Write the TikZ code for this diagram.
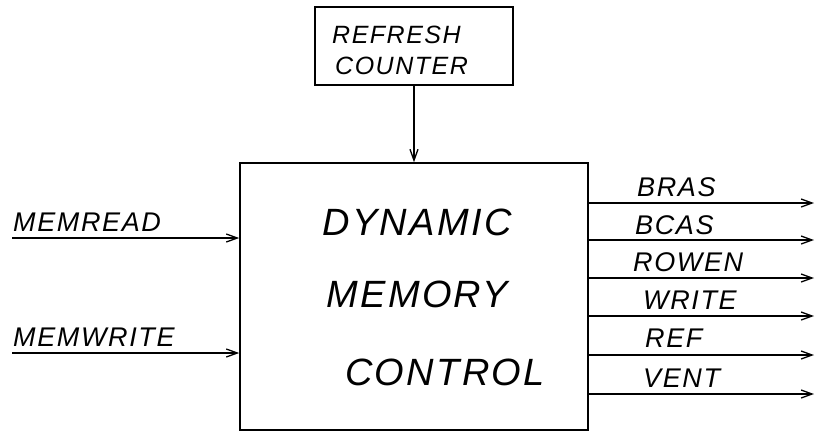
\documentclass[tikz,border=0pt]{standalone}
\usepackage{fontspec}
\setmainfont{Liberation Sans}
\newfontfamily\hand[LetterSpace=6]{Liberation Sans}
\usetikzlibrary{arrows.meta}
\begin{document}
\begin{tikzpicture}[x=1pt,y=-1pt,
  box/.style={draw, line width=1.6pt, inner sep=0pt},
  sig/.style={line width=1.4pt, -{Straight Barb[length=11pt,width=8pt,line width=1.3pt]}},
  lbl/.style={font=\hand\itshape\fontsize{27}{30}\selectfont, anchor=base west, inner sep=0pt},
  rlbl/.style={font=\hand\itshape\fontsize{25}{28}\selectfont, anchor=base west, inner sep=0pt},
  big/.style={font=\hand\itshape\fontsize{38}{40}\selectfont, anchor=base, inner sep=0pt}]
\useasboundingbox (0,0) rectangle (815,432);
% boxes
\node[box, minimum width=348pt, minimum height=267pt] (dmc) at (414,296.5) {};
\node[box, minimum width=198pt, minimum height=78pt] (rc) at (414,46) {};
% box texts
\node[rlbl] (t1) at (332,43) {REFRESH};
\node[rlbl] (t2) at (335,74) {COUNTER};
\node[big] (m1) at (417,235) {DYNAMIC};
\node[big] (m2) at (417,307) {MEMORY};
\node[big] (m3) at (445,385) {CONTROL};
% refresh arrow
\draw[sig] (rc) -- (dmc);
% inputs
\coordinate (i1) at (12,238);
\coordinate (i2) at (12,353);
\draw[sig] (i1) -- (dmc.west |- i1);
\draw[sig] (i2) -- (dmc.west |- i2);
\node[lbl] (li1) at (13,231) {MEMREAD};
\node[lbl] (li2) at (13,346) {MEMWRITE};
% outputs
\coordinate (o1) at (814,203);
\coordinate (o2) at (814,240);
\coordinate (o3) at (814,278);
\coordinate (o4) at (814,316);
\coordinate (o5) at (814,355);
\coordinate (o6) at (814,394);
\foreach \o in {o1,o2,o3,o4,o5,o6} \draw[sig] (dmc.east |- \o) -- (\o);
\node[lbl] (lo1) at (637,196) {BRAS};
\node[lbl] (lo2) at (635,234) {BCAS};
\node[lbl] (lo3) at (633,271) {ROWEN};
\node[lbl] (lo4) at (643,309) {WRITE};
\node[lbl] (lo5) at (645,347) {REF};
\node[lbl] (lo6) at (643,387) {VENT};
\end{tikzpicture}
\end{document}
